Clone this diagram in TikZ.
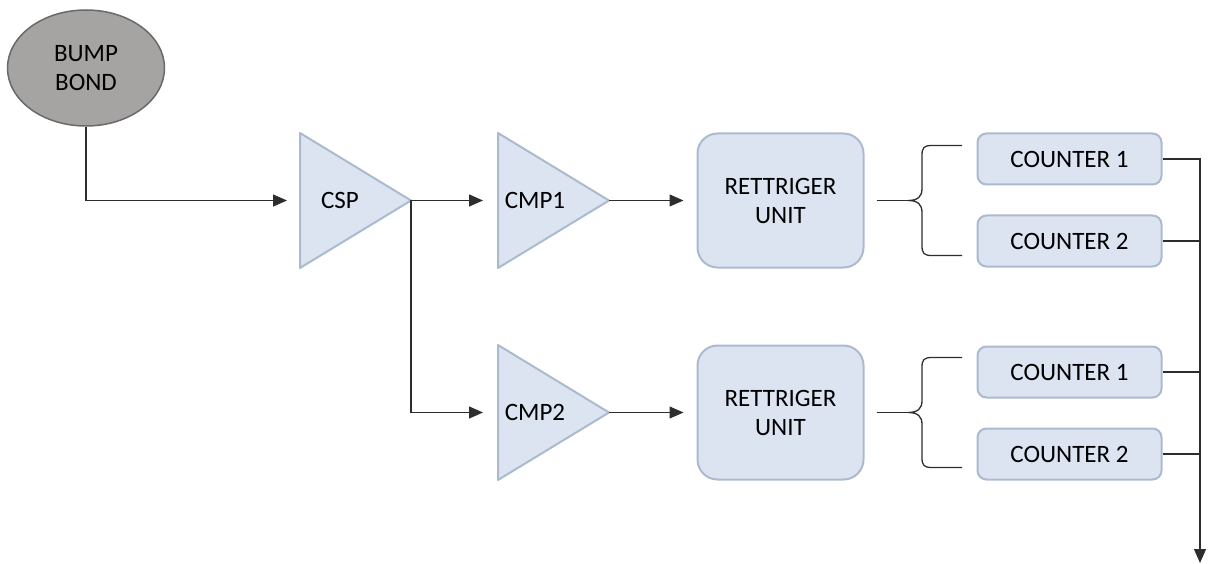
\documentclass[tikz,border=0pt]{standalone}
\usepackage{fontspec}
\setmainfont{Carlito}
\usetikzlibrary{arrows.meta}
\usetikzlibrary{positioning}
\usetikzlibrary{shapes.geometric}
\definecolor{boxfill}{RGB}{220,228,242}
\definecolor{boxline}{RGB}{172,186,208}
\definecolor{bondfill}{RGB}{166,163,163}
\definecolor{bondline}{RGB}{105,105,105}
\definecolor{wirecol}{RGB}{45,45,45}
\tikzset{
  every picture/.style={font={\fontsize{25}{29}\selectfont}, >={Triangle[length=14pt,width=12pt]}}}

\begin{document}
\begin{tikzpicture}[x=1pt, y=-1pt,
    bond/.style={draw=bondline, fill=bondfill, ellipse, line width=1.5pt, minimum width=157pt, minimum height=116pt, align=center},
    amp/.style={draw=boxline, fill=boxfill, line width=2pt, line join=round},
    retrig/.style={draw=boxline, fill=boxfill, line width=2pt, rounded corners=20pt, minimum width=166pt, minimum height=134pt, align=center},
    counter/.style={draw=boxline, fill=boxfill, line width=2pt, rounded corners=9pt, minimum width=184pt, minimum height=51pt},
    wire/.style={draw=wirecol, line width=1.3pt}]

    \useasboundingbox (0,0) rectangle (1210,564);

    \node[bond] (bump) at (86,68) {BUMP\\BOND};

    % amplifiers
    \draw[amp] (300,133) -- (411,200.5) -- (300,268) -- cycle;
    \draw[amp] (498,133) -- (609,200.5) -- (498,268) -- cycle;
    \draw[amp] (498,345) -- (609,412.5) -- (498,480) -- cycle;
    \coordinate (csp-in) at (300,200.5);
    \coordinate (csp-out) at (411,200.5);
    \coordinate (cmpA-in) at (498,200.5);
    \coordinate (cmpA-out) at (609,200.5);
    \coordinate (cmpB-in) at (498,412.5);
    \coordinate (cmpB-out) at (609,412.5);
    \node (csp) at (340,200.5) {CSP};
    \node (cmpA) at (535,200.5) {CMP1};
    \node (cmpB) at (535,412.5) {CMP2};

    \node[retrig] (retA) at (780.5,200.5) {RETTRIGER\\UNIT};
    \node[retrig] (retB) at (780.5,412.5) {RETTRIGER\\UNIT};

    \node[counter] (cA1) at (1069.5,159) {COUNTER 1};
    \node[counter] (cA2) [below=29pt of cA1] {COUNTER 2};
    \node[counter] (cB1) at (1069.5,372) {COUNTER 1};
    \node[counter] (cB2) [below=29pt of cB1] {COUNTER 2};

    \coordinate (tipA) at (908,200.5);
    \coordinate (tipB) at (908,412.5);
    \coordinate (busend) at (1200,563);

    \draw[wire,->,shorten >=13pt] (bump.south) |- (csp-in);
    \draw[wire,->,shorten >=15pt] (csp-out) -- (cmpA-in);
    \draw[wire,->,shorten >=15pt] (csp-out) |- (cmpB-in);
    \draw[wire,->,shorten >=13pt] (cmpA-out) -- (retA.west);
    \draw[wire,->,shorten >=13pt] (cmpB-out) -- (retB.west);
    \draw[wire,shorten <=12pt] (retA.east) -- (tipA);
    \draw[wire,shorten <=12pt] (retB.east) -- (tipB);

    % braces
    \foreach \y in {200.5,412.5}
      \draw[wire] (962,\y-55) -- (932,\y-55) .. controls (924,\y-55) and (922,\y-53) .. (922,\y-45)
        -- (922,\y-12) .. controls (922,\y-4) and (918,\y) .. (908,\y)
        .. controls (918,\y) and (922,\y+4) .. (922,\y+12)
        -- (922,\y+45) .. controls (922,\y+53) and (924,\y+55) .. (932,\y+55) -- (962,\y+55);

    \draw[wire,->] (cA1.east) -| (busend);
    \draw[wire] (cA2.east) -- (cA2.east -| busend);
    \draw[wire] (cB1.east) -- (cB1.east -| busend);
    \draw[wire] (cB2.east) -- (cB2.east -| busend);
\end{tikzpicture}
\end{document}
